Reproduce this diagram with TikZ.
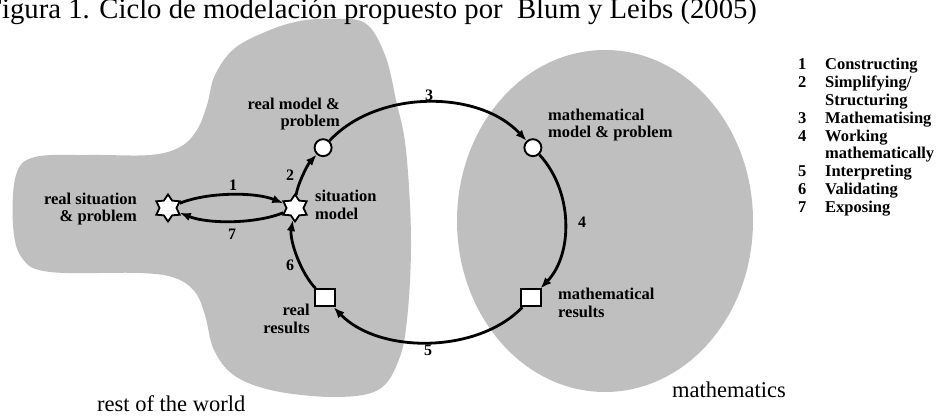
\documentclass[tikz,border=0pt]{standalone}
\usepackage{fontspec}
\setmainfont{Liberation Serif}
\usetikzlibrary{shapes.geometric,arrows.meta}
\definecolor{blobgray}{RGB}{191,191,191}
\begin{document}
\begin{tikzpicture}[x=1pt,y=1pt,
  arr/.style={line width=2.8pt,-{Latex[length=11pt,width=8.5pt]}},
  lbl/.style={font=\fontsize{16.5}{17.8}\selectfont\bfseries, inner sep=0pt},
  num/.style={font=\fontsize{16}{17}\selectfont\bfseries, inner sep=0pt},
  starnode/.style={star, star points=6, star point ratio=1.6, minimum size=27pt, inner sep=0pt, draw, line width=1.8pt, fill=white},
  circnode/.style={circle, draw, fill=white, line width=1.9pt, minimum size=17pt, inner sep=0pt},
  sqnode/.style={rectangle, draw, fill=white, line width=1.9pt, minimum width=20pt, minimum height=17pt, inner sep=0pt},
  region/.style={font=\fontsize{22.5}{24}\selectfont, inner sep=0pt}
]
\useasboundingbox (0,0) rectangle (940,417);
\clip (0,0) rectangle (940,417);
% regions
\fill[blobgray] plot[smooth cycle, tension=0.6] coordinates {
 (330,398) (365,394) (385,362) (396,317) (406,267) (411,177) (407,97)
 (398,55) (378,27) (335,20) (275,26) (235,41) (214,67) (205,102)
 (195,125) (175,139) (140,144) (50,145) (22,159) (13,192) (16,242)
 (35,260) (90,262) (150,262) (180,270) (197,287) (207,312) (215,342)
 (235,369) (270,387) (300,396)};
\fill[blobgray] (605,196) ellipse [x radius=148, y radius=171];
% title
\node[anchor=base west, inner sep=0pt, font=\fontsize{28.7}{30}\selectfont] (title) at (-14,398)
  {Figura 1. Ciclo de modelación propuesto por\ \ Blum y Leibs (2005)};
% region names
\node[region, anchor=base west] (world) at (97,5) {rest of the world};
\node[region, anchor=base west] (maths) at (672,19) {mathematics};
% nodes
\node[starnode] (rs) at (168,209) {};
\node[starnode] (sm) at (295,209) {};
\node[circnode] (rm) at (323.1,269.3) {};
\node[circnode] (mm) at (532.9,269.3) {};
\node[sqnode] (mr) at (531.4,119.2) {};
\node[sqnode] (rr) at (324.6,119.2) {};
% node labels
\node[lbl, anchor=east, align=right] (rslbl) at (137,208) {real situation\\\& problem};
\node[lbl, anchor=east, align=right] (rmlbl) at (340,303) {real model \&\\problem};
\node[lbl, anchor=west, align=left] (smlbl) at (315,212) {situation\\model};
\node[lbl, anchor=west, align=left] (mmlbl) at (548,292) {mathematical\\model \& problem};
\node[lbl, anchor=east, align=right] (rrlbl) at (310,98) {real\\results};
\node[lbl, anchor=west, align=left] (mrlbl) at (558,114) {mathematical\\results};
% connectors
\draw[arr] (rs) to[out=22,in=158,looseness=0.75] (sm);
\draw[arr] (sm) to[out=202,in=-22,looseness=0.75] (rs);
\draw[arr] (sm) .. controls (297.1,231.4) and (307.2,252.1) .. (rm);
\draw[arr] (rm) .. controls (377.1,327.6) and (478.9,327.6) .. (mm);
\draw[arr] (mm) .. controls (573.6,225.4) and (573.0,162.5) .. (mr);
\draw[arr] (mr) .. controls (477.5,63.0) and (378.6,63.0) .. (rr);
\draw[arr] (rr) .. controls (300.5,144.3) and (289.4,176.9) .. (sm);
% connector numbers
\node[num] (n1) at (233,232) {1};
\node[num] (n7) at (232,183) {7};
\node[num] (n2) at (290,242) {2};
\node[num] (n3) at (429,322) {3};
\node[num] (n4) at (582,195) {4};
\node[num] (n5) at (428,67) {5};
\node[num] (n6) at (290,152) {6};
% legend
\node[lbl, anchor=base west] (legend) at (798,347) {%
  \begin{tabular}[t]{@{}l@{\hspace{18.7pt}}l@{}}
  1 & Constructing\\
  2 & Simplifying/\\
    & Structuring\\
  3 & Mathematising\\
  4 & Working\\
    & mathematically\\
  5 & Interpreting\\
  6 & Validating\\
  7 & Exposing
  \end{tabular}};
\end{tikzpicture}
\end{document}
